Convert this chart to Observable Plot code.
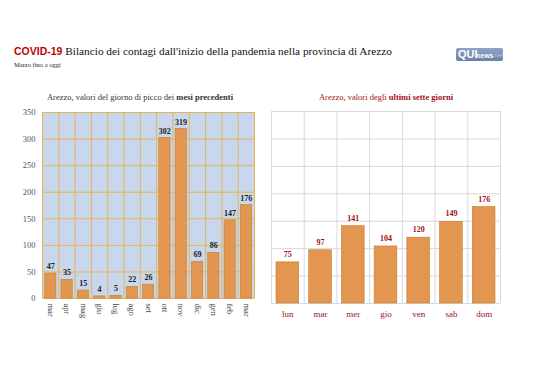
<!DOCTYPE html>
<html><head><meta charset="utf-8">
<script src="https://cdn.jsdelivr.net/npm/d3@7"></script>
<script src="https://cdn.jsdelivr.net/npm/@observablehq/plot@0.6"></script>
<style>
html,body{margin:0;padding:0;background:#fff;width:538px;height:380px;overflow:hidden;position:relative;font-family:"Liberation Serif",serif;}
.abs{position:absolute;white-space:nowrap;}
#title{left:14px;top:45px;font-size:11.3px;color:#111;}
#title .c{font-family:"Liberation Sans",sans-serif;font-weight:bold;color:#c00000;font-size:10.5px;}
#sub{left:14px;top:61px;font-size:6.5px;color:#222;}
#logo{left:456px;top:48px;width:47px;height:13px;background:linear-gradient(#8fa3c4,#6a81a8);border-radius:2px;font-family:"Liberation Sans",sans-serif;color:#fff;font-weight:bold;}
#logo .q{position:absolute;left:2px;top:0px;font-size:11px;line-height:13px;}
#logo .n{position:absolute;left:20px;top:1px;font-size:7px;line-height:13px;}
#logo .t{position:absolute;left:37px;top:1px;font-size:6px;line-height:13px;color:#b9c6dd;font-weight:normal;}
#lsub{left:0;width:280px;text-align:center;top:92px;font-size:8.5px;color:#333;}
#rsub{left:270px;width:232px;text-align:center;top:92px;font-size:8.5px;color:#a50f15;}
#left{left:0;top:105px;}
#right{left:265px;top:105px;}
</style></head>
<body>
<div id="title" class="abs"><span class="c">COVID-19</span> Bilancio dei contagi dall'inizio della pandemia nella provincia di Arezzo</div>
<div id="sub" class="abs">Marzo fino a oggi</div>
<div id="logo" class="abs"><span class="q">QUI</span><span class="n">news</span><span class="t">.net</span></div>
<div id="lsub" class="abs">Arezzo, valori del giorno di picco dei <b>mesi precedenti</b></div>
<div id="rsub" class="abs">Arezzo, valori degli <b>ultimi sette giorni</b></div>
<div id="left" class="abs"></div>
<div id="right" class="abs"></div>
<script>
const months = ["mar","apr","mag","giu","lug","ago","set","ott","nov","dic","gen","feb","mar"];
const monthValues = [47,35,15,4,5,22,26,302,319,69,86,147,176];
const days = ["lun","mar","mer","gio","ven","sab","dom"];
const dayValues = [75,97,141,104,120,149,176];
const yTicks = [0,50,100,150,200,250,300,350];

const barFill = "#e2964f", barStroke = "#c77b36";
const serif = "Liberation Serif, serif";

const leftData = months.map((m,i)=>({i, m, v: monthValues[i]}));
const leftGridX = d3.range(months.length+1);
const left = Plot.plot({
  width: 265, height: 225,
  marginLeft: 42, marginRight: 11, marginTop: 7, marginBottom: 32,
  style: {fontFamily: serif, background: "transparent"},
  x: {domain: [0, months.length], axis: null},
  y: {domain: [0, 350], axis: null},
  marks: [
    Plot.rect([0], {x1: 0, x2: months.length, y1: 0, y2: 350, fill: "#c8d7ee"}),
    Plot.ruleY(yTicks, {stroke: "#e8b54a", strokeWidth: 1}),
    Plot.ruleX(leftGridX, {stroke: "#e8b54a", strokeWidth: 1}),
    Plot.rectY(leftData, {x1: d=>d.i, x2: d=>d.i+1, y: "v", fill: barFill, stroke: barStroke, strokeWidth: 0.6, insetLeft: 2.7, insetRight: 2.4}),
    Plot.text(leftData, {x: d=>d.i+0.5, y: "v", text: d=>String(d.v), dy: -7, fontWeight: "bold", fontSize: 8, fill: "#1a1a1a"}),
    Plot.text(yTicks, {x: 0, y: d=>d, text: d=>String(d), textAnchor: "end", dx: -7, fontSize: 8.5, fill: "#555"}),
    Plot.text(leftData, {x: d=>d.i+0.5, y: 0, text: "m", rotate: 90, textAnchor: "start", lineAnchor: "middle", dy: 5, fontSize: 8.5, fill: "#444"})
  ]
});
document.getElementById("left").appendChild(left);

const rightData = days.map((d,i)=>({i, d, v: dayValues[i]}));
const right = Plot.plot({
  width: 273, height: 225,
  marginLeft: 6, marginRight: 38, marginTop: 6, marginBottom: 27,
  style: {fontFamily: serif, background: "transparent"},
  x: {domain: [0, days.length], axis: null},
  y: {domain: [0, 350], axis: null},
  marks: [
    Plot.ruleY(yTicks, {stroke: "#d9d9d9", strokeWidth: 1}),
    Plot.ruleX(d3.range(days.length+1), {stroke: "#d9d9d9", strokeWidth: 1}),
    Plot.rectY(rightData, {x1: d=>d.i, x2: d=>d.i+1, y: "v", fill: barFill, stroke: barStroke, strokeWidth: 0.6, insetLeft: 5, insetRight: 5}),
    Plot.text(rightData, {x: d=>d.i+0.5, y: "v", text: d=>String(d.v), dy: -8, fontWeight: "bold", fontSize: 8, fill: "#a50f15"}),
    Plot.text(rightData, {x: d=>d.i+0.5, y: 0, text: "d", dy: 11, fontSize: 9, fill: "#a50f15"})
  ]
});
document.getElementById("right").appendChild(right);
</script>
</body></html>
